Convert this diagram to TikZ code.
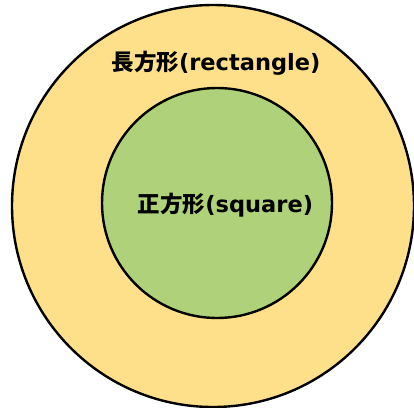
\documentclass[tikz,border=0pt]{standalone}
\usepackage{fontspec}
\setmainfont{DejaVu Sans}
\newfontfamily\jpfont{Noto Sans CJK JP}
\definecolor{outerfill}{HTML}{FFE08A}
\definecolor{innerfill}{HTML}{AED17A}
\begin{document}
\begin{tikzpicture}[x=1pt,y=-1pt,
  ring/.style={draw=black,line width=2.4pt},
  lbl/.style={font=\fontsize{22.5}{25}\selectfont\bfseries,inner sep=0pt,anchor=center}]
\useasboundingbox (0,0) rectangle (414,407);
\fill[outerfill] (213,206) circle (201);
\draw[ring] (213,206) circle (201);
\filldraw[ring,fill=innerfill] (217,203) circle (115);
\node[lbl] (rect) at (216,63) {{\jpfont 長方形}(rectangle)};
\node[lbl] (sq) at (225.5,205) {{\jpfont 正方形}(square)};
\end{tikzpicture}
\end{document}
